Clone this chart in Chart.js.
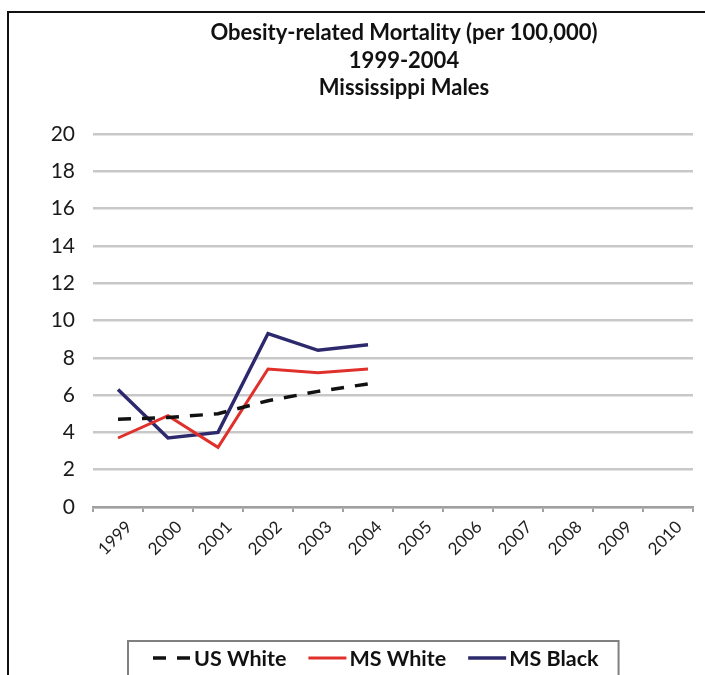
<!DOCTYPE html>
<html>
<head>
<meta charset="utf-8">
<script src="https://cdn.jsdelivr.net/npm/chart.js@4.4.1/dist/chart.umd.min.js"></script>
<style>
  html, body { margin: 0; padding: 0; background: #fff; overflow: hidden; width: 705px; height: 675px; }
  #frame { position: absolute; left: 7px; top: 11px; width: 790px; height: 700px;
           border-left: 2px solid #111; border-top: 2px solid #111; }
  #c { position: absolute; left: 0; top: 0; }
</style>
</head>
<body>
<div id="frame"><canvas id="c" width="790" height="700"></canvas></div>
<script>
// Categories and series (deaths per 100,000)
const years = ['1999', '2000', '2001', '2002', '2003', '2004', '2005', '2006', '2007', '2008', '2009', '2010'];
const usWhite = [4.7, 4.8, 5.0, 5.7, 6.2, 6.6];
const msWhite = [3.7, 4.9, 3.2, 7.4, 7.2, 7.4];
const msBlack = [6.3, 3.7, 4.0, 9.3, 8.4, 8.7];
const seriesNames = ['US White', 'MS White', 'MS Black'];

// Value axis range
const yMin = 0;
const yMax = 20;
const yStep = 2;

const titleLines = ['Obesity-related Mortality (per 100,000)', '1999-2004', 'Mississippi Males'];

const FONT = 'Lato, "Open Sans", sans-serif';

// Boxed legend drawn beneath the axis
const boxedLegend = {
  id: 'boxedLegend',
  afterDraw(chart) {
    const ctx = chart.ctx;
    ctx.save();
    ctx.font = 'bold 21.5px ' + FONT;
    ctx.textBaseline = 'middle';
    ctx.textAlign = 'left';
    const y = 645;
    const startX = 144;
    let x = startX;
    chart.data.datasets.forEach(ds => {
      ctx.beginPath();
      ctx.strokeStyle = ds.borderColor;
      ctx.lineWidth = ds.borderWidth;
      ctx.setLineDash(ds.borderDash || []);
      ctx.moveTo(x, y);
      ctx.lineTo(x + 38, y);
      ctx.stroke();
      ctx.setLineDash([]);
      ctx.fillStyle = '#111';
      ctx.fillText(ds.label, x + 41, y + 1);
      x += 41 + ctx.measureText(ds.label).width + 22;
    });
    const right = x - 22 + 20;
    ctx.strokeStyle = '#808080';
    ctx.lineWidth = 2;
    ctx.strokeRect(startX - 25, 628, right - (startX - 25), 120);
    ctx.restore();
  }
};

new Chart(document.getElementById('c'), {
  type: 'line',
  data: {
    labels: years,
    datasets: [
      { label: seriesNames[0], data: usWhite, borderColor: '#111111', backgroundColor: '#111111',
        borderWidth: 3.5, borderDash: [13, 11], pointRadius: 0, tension: 0 },
      { label: seriesNames[1], data: msWhite, borderColor: '#e0302b', backgroundColor: '#e0302b',
        borderWidth: 3, pointRadius: 0, tension: 0 },
      { label: seriesNames[2], data: msBlack, borderColor: '#2c2a6c', backgroundColor: '#2c2a6c',
        borderWidth: 3.5, pointRadius: 0, tension: 0 }
    ]
  },
  options: {
    responsive: false,
    animation: false,
    events: [],
    layout: { padding: { left: 0, right: 0, top: 0, bottom: 146 } },
    plugins: {
      legend: { display: false },
      tooltip: { enabled: false },
      title: {
        display: true,
        text: titleLines,
        color: '#111',
        font: { family: FONT, size: 22, weight: 'bold', lineHeight: '27.5px' },
        padding: { top: 6.5, bottom: 32 }
      }
    },
    scales: {
      x: {
        offset: true,
        grid: { display: true, drawOnChartArea: false, drawTicks: true, tickLength: 5,
                offset: true, color: '#a0a0a0', lineWidth: 2 },
        border: { display: true, color: '#a0a0a0', width: 2.5 },
        ticks: { color: '#222', font: { family: FONT, size: 17 }, minRotation: 45, maxRotation: 45,
                 autoSkip: false, padding: 5, labelOffset: 11 },
        afterFit(scale) { scale.height = 60; }
      },
      y: {
        min: yMin, max: yMax,
        grid: { color: '#c8c8c8', lineWidth: 2.5, drawTicks: false },
        border: { display: false },
        ticks: { stepSize: yStep, color: '#1a1a1a', font: { family: FONT, size: 21 }, padding: 18 },
        afterFit(scale) { scale.width = 84; }
      },
      // empty margin to the right of the plot
      yRight: {
        position: 'right',
        min: yMin, max: yMax,
        grid: { display: false },
        border: { display: false },
        ticks: { display: false },
        afterFit(scale) { scale.width = 106; }
      }
    }
  },
  plugins: [boxedLegend]
});
</script>
</body>
</html>
